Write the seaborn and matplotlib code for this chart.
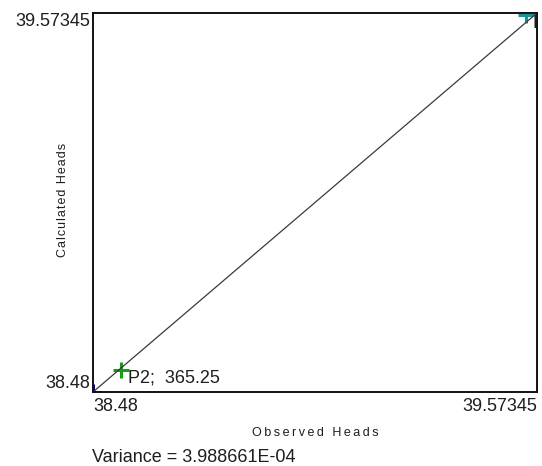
import matplotlib
matplotlib.use("Agg")
import matplotlib.pyplot as plt
import seaborn as sns
import pandas as pd

# ---- data ----
point_names = ["P3", "P2", "P1"]
observed = [38.48, 38.549, 39.5464]
calculated = [38.48, 38.5435, 39.5677]
point_labels = ["", "P2;  365.25", "P1;  365.25"]
point_colors = ["#000080", "#1a9a1a", "#169494"]
axis_min = 38.48
axis_max = 39.57345
tick_values = [axis_min, axis_max]
tick_labels = ["38.48", "39.57345"]
variance_text = "Variance = 3.988661E-04"

df = pd.DataFrame({"name": point_names, "obs": observed, "calc": calculated})
line_df = pd.DataFrame({"x": [axis_min, axis_max], "y": [axis_min, axis_max]})

sns.set_style("white")
plt.rcParams["font.family"] = ["Liberation Sans", "DejaVu Sans"]
txt_color = "#1e1e1e"

fig = plt.figure(figsize=(5.42, 4.66), dpi=100)
ax = fig.add_axes([93 / 542, 1 - 392 / 466, (537 - 93) / 542, (392 - 13) / 466])

sns.lineplot(data=line_df, x="x", y="y", ax=ax, color="#3a3a3a", linewidth=0.9)
sns.scatterplot(data=df, x="obs", y="calc", hue="name", palette=point_colors,
                marker="+", s=130, linewidth=2.2, ax=ax, legend=False, clip_on=True)

for xo, yo, lab in zip(observed, calculated, point_labels):
    if lab:
        t = ax.annotate(lab, (xo, yo), xytext=(5.2, 0), textcoords="offset points",
                        ha="left", va="top", fontsize=13, color=txt_color,
                        annotation_clip=False)
        t.set_clip_on(True)
        t.set_clip_box(ax.bbox)

ax.set_xlim(axis_min, axis_max)
ax.set_ylim(axis_min, axis_max)
ax.set_xticks(tick_values)
ax.set_xticklabels(tick_labels, fontsize=13, color=txt_color)
ax.set_yticks(tick_values)
ax.set_yticklabels(tick_labels, fontsize=13, color=txt_color)
ax.tick_params(axis="x", length=0, pad=4)
ax.tick_params(axis="y", length=0, pad=2)
xl = ax.get_xticklabels()
xl[0].set_ha("left")
xl[1].set_ha("right")
yl = ax.get_yticklabels()
yl[0].set_va("bottom")
yl[1].set_va("top")

ax.set_xlabel("\u2009".join("Observed Heads"), fontsize=9, color=txt_color, labelpad=9)
ax.set_ylabel("\u200a".join("Calculated Heads"), fontsize=9, color=txt_color)
ax.yaxis.set_label_coords((63 - 93) / 444, (392 - 200) / 379)
ax.yaxis.label.set_va("center")

for sp in ax.spines.values():
    sp.set_color("#111111")
    sp.set_linewidth(1.4)

fig.text(92 / 542, 1 - 458 / 466, variance_text, fontsize=13, color=txt_color,
         ha="left", va="center")

fig.savefig("out.png", dpi=100)
